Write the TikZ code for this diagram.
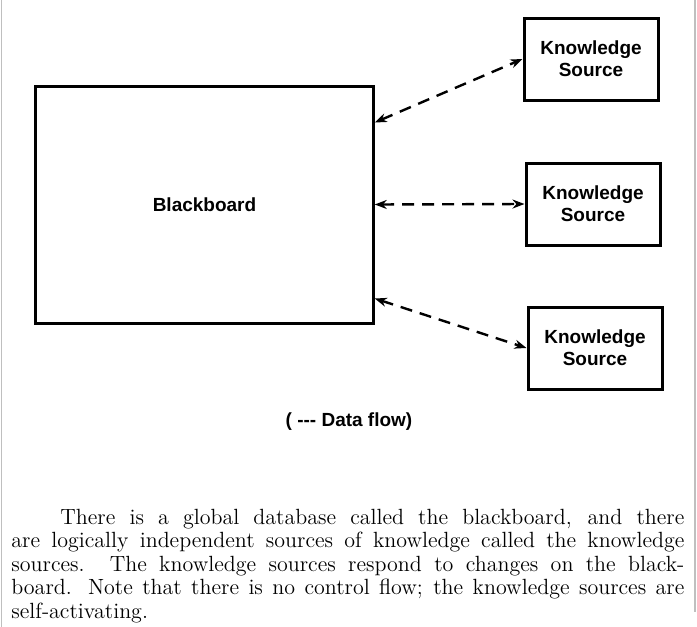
\documentclass[tikz,border=0pt]{standalone}
\usepackage{fontspec}
\usepackage{tikz}
\usetikzlibrary{positioning}
\usetikzlibrary{arrows.meta}
\newfontfamily\labelfont{Liberation Sans}

\begin{document}
\begin{tikzpicture}[x=0.5pt,y=-0.5pt,
    every node/.style={font=\labelfont\bfseries\fontsize{9.5}{10.8}\selectfont},
    board/.style={draw,line width=1.5pt,minimum width=168.75pt,minimum height=118.5pt},
    source/.style={draw,line width=1.5pt,align=center,minimum width=67pt,minimum height=41pt},
    flow/.style={line width=1.2pt,dash pattern=on 6pt off 4pt,
      {Stealth[length=6pt,width=4.5pt]}-{Stealth[length=6pt,width=4.5pt]}}]
  \useasboundingbox (0,0) rectangle (697,627);

  % Page edges.
  \draw[gray!50,line width=0.6pt] (1.5,0) -- (1.5,627);
  \draw[gray!50,line width=0.6pt] (695,0) -- (695,612);

  %%%%%%%%%%%%%%%%%%%%%%%%%%%%%%%%%%%%%%%%%%%%%%%%%%%%%%%%%%%%%%%%%%%%%%%%%%
  %%% BEGIN: BLACKBOARD AND SOURCES.
  %%%%%%%%%%%%%%%%%%%%%%%%%%%%%%%%%%%%%%%%%%%%%%%%%%%%%%%%%%%%%%%%%%%%%%%%%%
  \node[board] (bb) at (204.5,204.5) {Blackboard};

  % Knowledge source nodes.
  \foreach \i/\x/\y in {1/591/59,2/593/204,3/595/348}{
    \node[source] (ks\i) at (\x,\y) {Knowledge\\Source};
  }

  % Data flow.
  \draw[flow] ([yshift=41pt]bb.east) -- (ks1.west);
  \draw[flow] (bb.east) -- (ks2.west);
  \draw[flow] ([yshift=-47pt]bb.east) -- (ks3.west);

  \node (legend) at (349,422) {( -{}-{}- Data flow)};
  %%%%%%%%%%%%%%%%%%%%%%%%%%%%%%%%%%%%%%%%%%%%%%%%%%%%%%%%%%%%%%%%%%%%%%%%%%
  %%% END: BLACKBOARD AND SOURCES.
  %%%%%%%%%%%%%%%%%%%%%%%%%%%%%%%%%%%%%%%%%%%%%%%%%%%%%%%%%%%%%%%%%%%%%%%%%%

  % Caption.
  \node[anchor=base west,inner sep=0pt,font=\fontsize{11}{11.75}\selectfont] (caption) at (11,524)
    {\parbox[t]{336.5pt}{\hspace*{24.5pt}There is a global database called the blackboard, and there\linebreak
    are logically independent sources of knowledge called the knowledge\linebreak
    sources.  The knowledge sources respond to changes on the black-\linebreak
    board. Note that there is no control flow; the knowledge sources are\linebreak
    self-activating.}};
\end{tikzpicture}
\end{document}
